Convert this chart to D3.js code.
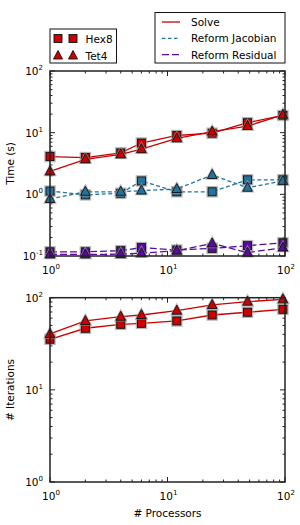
<!DOCTYPE html>
<html><head><meta charset="utf-8">
<script src="https://cdn.jsdelivr.net/npm/d3@7"></script>
<style>body{margin:0;background:#fff}svg{display:block;font-family:"DejaVu Sans",sans-serif}</style>
</head><body>
<script>
const procs = [1, 2, 4, 6, 12, 24, 48, 96];
const solveHex8 = [4.1, 3.95, 4.7, 6.8, 9.0, 9.8, 14.5, 19.0];
const solveTet4 = [2.35, 3.7, 4.45, 5.4, 8.1, 10.4, 12.8, 19.5];
const jacHex8 = [1.13, 0.98, 1.04, 1.65, 1.1, 1.1, 1.72, 1.72];
const jacTet4 = [0.84, 1.1, 1.1, 1.15, 1.22, 2.06, 1.28, 1.65];
const resHex8 = [0.117, 0.117, 0.122, 0.137, 0.125, 0.133, 0.147, 0.164];
const resTet4 = [0.106, 0.106, 0.107, 0.111, 0.122, 0.160, 0.113, 0.137];
const iterHex8 = [35.4, 46.6, 51.4, 52.7, 55.9, 64.9, 69.5, 74.8];
const iterTet4 = [40.4, 55.9, 62.2, 64.9, 72.3, 83.4, 90.6, 96.0];
const xTicks = [1, 10, 100];
const timeTicks = [0.1, 1, 10, 100];
const iterTicks = [1, 10, 100];
const seriesNames = ["Solve", "Reform Jacobian", "Reform Residual"];
const meshNames = ["Hex8", "Tet4"];

const RED = "#cc0000", BLUE = "#24739f", PURPLE = "#5a0b9e";
const W = 300, H = 525;
const svg = d3.select("body").append("svg").attr("width", W).attr("height", H);

const x = d3.scaleLog().domain([1, 100]).range([50, 285]);
const yT = d3.scaleLog().domain([0.1, 100]).range([256, 71]);
const yI = d3.scaleLog().domain([1, 100]).range([482, 297.7]);

function minorTicks(dom) {
  const out = [];
  for (let e = Math.round(Math.log10(dom[0])); e < Math.round(Math.log10(dom[1])); e++) {
    for (let k = 2; k <= 9; k++) out.push(k * Math.pow(10, e));
  }
  return out;
}
function expLabel(sel, v) {
  const e = Math.round(Math.log10(v));
  sel.append("tspan").text("10");
  sel.append("tspan").attr("dy", -5).attr("font-size", 7).text(e);
}

function frame(y, yticks) {
  const g = svg.append("g");
  const [x0, x1] = x.range(), [yb, yt] = y.range();
  const tk = g.append("g").attr("stroke", "#222").attr("stroke-width", 1);
  xTicks.forEach(v => {
    const px = x(v);
    tk.append("line").attr("x1", px).attr("x2", px).attr("y1", yb).attr("y2", yb - 5);
    tk.append("line").attr("x1", px).attr("x2", px).attr("y1", yt).attr("y2", yt + 5);
  });
  minorTicks(x.domain()).forEach(v => {
    const px = x(v);
    tk.append("line").attr("x1", px).attr("x2", px).attr("y1", yb).attr("y2", yb - 2.5);
    tk.append("line").attr("x1", px).attr("x2", px).attr("y1", yt).attr("y2", yt + 2.5);
  });
  yticks.forEach(v => {
    const py = y(v);
    tk.append("line").attr("x1", x0).attr("x2", x0 + 5).attr("y1", py).attr("y2", py);
    tk.append("line").attr("x1", x1).attr("x2", x1 - 5).attr("y1", py).attr("y2", py);
  });
  minorTicks(y.domain()).forEach(v => {
    const py = y(v);
    tk.append("line").attr("x1", x0).attr("x2", x0 + 2.5).attr("y1", py).attr("y2", py);
    tk.append("line").attr("x1", x1).attr("x2", x1 - 2.5).attr("y1", py).attr("y2", py);
  });
  // tick labels
  xTicks.forEach(v => {
    const t = g.append("text").attr("x", x(v) + 1).attr("y", yb + 17.5).attr("font-size", 10.5)
      .attr("text-anchor", "middle").attr("fill", "#000");
    expLabel(t, v);
  });
  yticks.forEach(v => {
    const t = g.append("text").attr("x", x0 - 7).attr("y", y(v) + 4).attr("font-size", 10.5)
      .attr("text-anchor", "end").attr("fill", "#000");
    expLabel(t, v);
  });
  return g;
}

function marker(g, type, cx, cy, color) {
  if (type === "square") {
    g.append("rect").attr("x", cx - 4.5).attr("y", cy - 4.5).attr("width", 9).attr("height", 9)
      .attr("fill", "none").attr("stroke", "#999").attr("stroke-width", 2.5).attr("opacity", 0.7);
    g.append("rect").attr("x", cx - 4).attr("y", cy - 4).attr("width", 8).attr("height", 8)
      .attr("fill", color).attr("stroke", "#111").attr("stroke-width", 0.9);
  } else {
    const p = `M${cx},${cy - 5.5}L${cx + 4.8},${cy + 3.5}L${cx - 4.8},${cy + 3.5}Z`;
    g.append("path").attr("d", p).attr("fill", "none").attr("stroke", "#999").attr("stroke-width", 2.5).attr("opacity", 0.7);
    g.append("path").attr("d", p).attr("fill", color).attr("stroke", "#111").attr("stroke-width", 0.9);
  }
}

function series(y, vals, color, dash, type) {
  const g = svg.append("g");
  const line = d3.line().x((d, i) => x(procs[i])).y(d => y(d));
  g.append("path").datum(vals).attr("d", line).attr("fill", "none").attr("stroke", color)
    .attr("stroke-width", 1.3).attr("stroke-dasharray", dash);
  vals.forEach((v, i) => marker(g, type, x(procs[i]), y(v), color));
}

frame(yT, timeTicks);
const topData = [
  [resHex8, PURPLE, "7,3", "square"], [resTet4, PURPLE, "7,3", "triangle"],
  [jacHex8, BLUE, "4,2.5", "square"], [jacTet4, BLUE, "4,2.5", "triangle"],
  [solveHex8, RED, null, "square"], [solveTet4, RED, null, "triangle"]
];
topData.forEach(d => series(yT, d[0], d[1], d[2], d[3]));

frame(yI, iterTicks);
series(yI, iterHex8, RED, null, "square");
series(yI, iterTet4, RED, null, "triangle");

// axis frames
[yT, yI].forEach(y => {
  svg.append("rect").attr("x", 50).attr("y", y.range()[1]).attr("width", 235)
    .attr("height", y.range()[0] - y.range()[1]).attr("fill", "none")
    .attr("stroke", "#222").attr("stroke-width", 1.5);
});

// axis labels
svg.append("text").attr("transform", "translate(14,163.5) rotate(-90)").attr("text-anchor", "middle")
  .attr("font-size", 10.5).text("Time (s)");
svg.append("text").attr("transform", "translate(14,390) rotate(-90)").attr("text-anchor", "middle")
  .attr("font-size", 10.5).text("# Iterations");
svg.append("text").attr("x", 167.5).attr("y", 517).attr("text-anchor", "middle")
  .attr("font-size", 10.5).text("# Processors");

// left legend
const lg = svg.append("g");
lg.append("rect").attr("x", 50).attr("y", 29).attr("width", 66.5).attr("height", 34)
  .attr("fill", "#fff").attr("stroke", "#111").attr("stroke-width", 1);
meshNames.forEach((n, i) => {
  const cy = 38.5 + i * 17;
  const type = i === 0 ? "square" : "triangle";
  [58, 73].forEach(cx => {
    if (type === "square") lg.append("rect").attr("x", cx - 4).attr("y", cy - 4).attr("width", 8).attr("height", 8)
      .attr("fill", RED).attr("stroke", "#111").attr("stroke-width", 0.9);
    else lg.append("path").attr("d", `M${cx},${cy - 5}L${cx + 4.5},${cy + 3.5}L${cx - 4.5},${cy + 3.5}Z`)
      .attr("fill", RED).attr("stroke", "#111").attr("stroke-width", 0.9);
  });
  lg.append("text").attr("x", 85.5).attr("y", cy + 4).attr("font-size", 10.5).text(n);
});

// right legend
const rg = svg.append("g");
rg.append("rect").attr("x", 155).attr("y", 12.5).attr("width", 130).attr("height", 50.5)
  .attr("fill", "#fff").attr("stroke", "#111").attr("stroke-width", 1);
const legColors = [RED, BLUE, PURPLE], legDash = [null, "3.5,2.5", "7,3"];
seriesNames.forEach((n, i) => {
  const cy = 22 + i * 16.3;
  rg.append("line").attr("x1", 162).attr("x2", 180).attr("y1", cy).attr("y2", cy)
    .attr("stroke", legColors[i]).attr("stroke-width", 1.3).attr("stroke-dasharray", legDash[i]);
  rg.append("text").attr("x", 191).attr("y", cy + 4).attr("font-size", 10.5).text(n);
});
</script>
</body></html>
